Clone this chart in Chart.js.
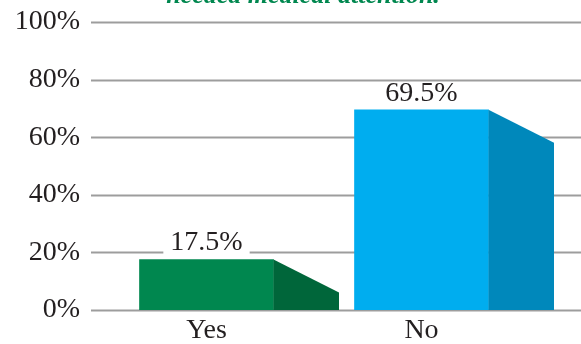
<!DOCTYPE html>
<html>
<head>
<meta charset="utf-8">
<script src="https://cdn.jsdelivr.net/npm/chart.js@4/dist/chart.umd.min.js"></script>
<style>
    html, body { margin: 0; padding: 0; background: #fff; }
    canvas { display: block; }
</style>
</head>
<body>
<canvas id="attentionChart" width="581" height="344"></canvas>
<script>
// Chart data
const categories = ['Yes', 'No'];
const percentValues = [17.5, 69.5];
const tickValues = [0, 20, 40, 60, 80, 100];
const titleText = 'needed medical attention.';

// Colours for front and side faces
const frontColors = ['#00874f', '#00adef'];
const sideColors = ['#00663a', '#0088bb'];

const textFont = '"Liberation Serif", "Times New Roman", serif';

// Horizontal gridlines that run past the plot area on both sides
const gridPlugin = {
    id: 'wideGrid',
    beforeDatasetsDraw(chart) {
        const { ctx, scales: { y } } = chart;
        ctx.save();
        ctx.strokeStyle = '#9d9d9d';
        ctx.lineWidth = 2;
        tickValues.forEach(v => {
            const py = Math.round(y.getPixelForValue(v)) + 0.5;
            ctx.beginPath();
            ctx.moveTo(91, py);
            ctx.lineTo(chart.width, py);
            ctx.stroke();
        });
        ctx.restore();
    }
};

// Slanted side face next to each bar plus the value label
const sidePlugin = {
    id: 'barSides',
    afterDatasetsDraw(chart) {
        const { ctx } = chart;
        const meta = chart.getDatasetMeta(0);
        ctx.save();
        meta.data.forEach((bar, i) => {
            const right = bar.x + bar.width / 2;
            const depth = 65.5;
            const drop = 33;
            ctx.fillStyle = sideColors[i];
            ctx.beginPath();
            ctx.moveTo(right, bar.y);
            ctx.lineTo(right + depth, Math.min(bar.y + drop, bar.base));
            ctx.lineTo(right + depth, bar.base);
            ctx.lineTo(right, bar.base);
            ctx.closePath();
            ctx.fill();

            // value label on a white box
            const label = percentValues[i].toFixed(1) + '%';
            ctx.font = '28px ' + textFont;
            const w = ctx.measureText(label).width;
            const cy = bar.y - 16.5;
            ctx.fillStyle = '#ffffff';
            ctx.fillRect(bar.x - w / 2 - 7, cy - 11, w + 14, 22);
            ctx.fillStyle = '#231f20';
            ctx.textAlign = 'center';
            ctx.textBaseline = 'middle';
            ctx.fillText(label, bar.x, cy);
        });
        ctx.restore();
    }
};

// Heading, mostly above the top edge
const titlePlugin = {
    id: 'topTitle',
    afterDraw(chart) {
        const { ctx } = chart;
        ctx.save();
        ctx.font = 'italic bold 26px ' + textFont;
        ctx.fillStyle = '#00874f';
        ctx.textAlign = 'center';
        ctx.textBaseline = 'alphabetic';
        ctx.fillText(titleText, 303, 3);
        ctx.restore();
    }
};

const ctx = document.getElementById('attentionChart').getContext('2d');
new Chart(ctx, {
    type: 'bar',
    data: {
        labels: categories,
        datasets: [{
            data: percentValues,
            backgroundColor: frontColors,
            borderWidth: 0,
            barThickness: 134
        }]
    },
    options: {
        responsive: false,
        animation: false,
        layout: {
            padding: { top: 22, right: 52, left: 0, bottom: 0 }
        },
        plugins: {
            legend: { display: false },
            tooltip: { enabled: false },
            title: { display: false }
        },
        scales: {
            x: {
                grid: { display: false, drawTicks: false },
                border: { display: false },
                ticks: {
                    color: '#231f20',
                    padding: 4,
                    font: { family: textFont, size: 28 }
                },
                afterFit(scale) {
                    scale.height = 34;
                    scale.paddingLeft = 0;
                    scale.paddingRight = 0;
                }
            },
            y: {
                min: 0,
                max: 100,
                afterBuildTicks(scale) {
                    scale.ticks = tickValues.map(v => ({ value: v }));
                },
                grid: { display: false, drawTicks: false },
                border: { display: false },
                ticks: {
                    color: '#231f20',
                    padding: 19,
                    font: { family: textFont, size: 28 },
                    callback: v => v + '%'
                },
                afterFit(scale) {
                    scale.width = 99;
                    scale.paddingTop = 0;
                    scale.paddingBottom = 0;
                }
            }
        }
    },
    plugins: [gridPlugin, sidePlugin, titlePlugin]
});
</script>
</body>
</html>
